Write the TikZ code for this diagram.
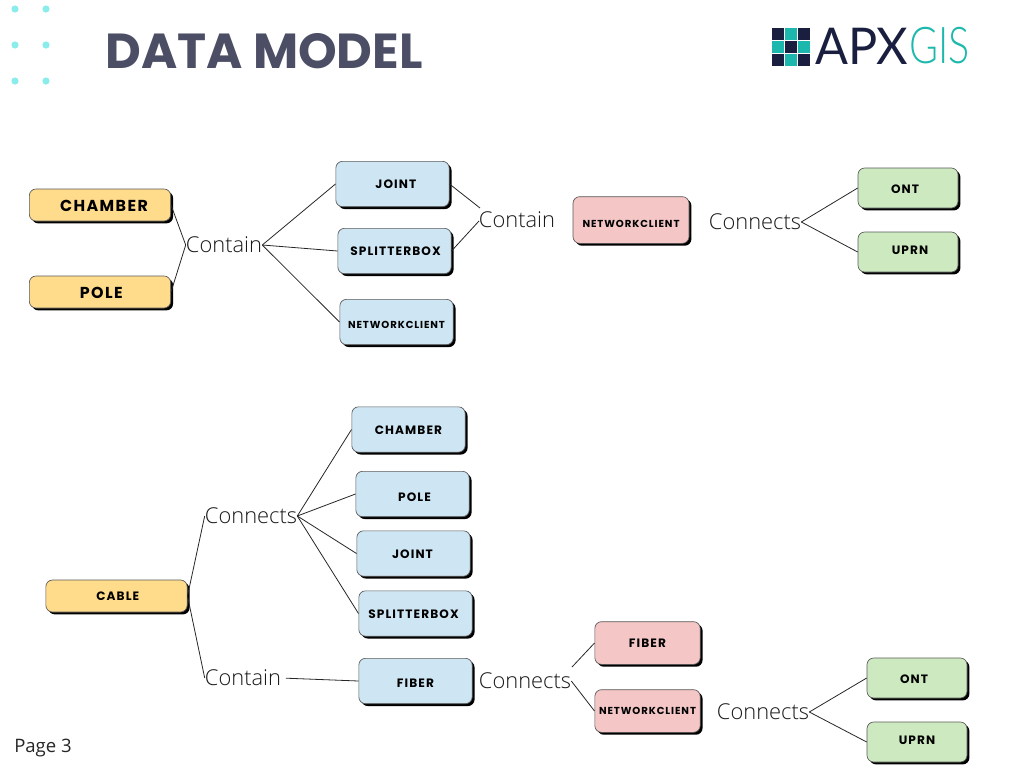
\documentclass[tikz,border=0pt]{standalone}
\usepackage{xcolor}
\usepackage{fontspec}
\usetikzlibrary{shadows}
\setmainfont{Open Sans}
\newfontfamily\verbfont{Open Sans Light}
\newfontfamily\titlefont{Poppins}
\newfontfamily\boxfont[LetterSpace=9]{Poppins}
\newfontfamily\logofont{Lato}
\newfontfamily\logolight{Lato Light}
\definecolor{titlegrey}{HTML}{4B4E65}
\definecolor{dotcyan}{HTML}{8AEDEC}
\definecolor{logonavy}{HTML}{1A1F40}
\definecolor{logoteal}{HTML}{1DB8AD}
\definecolor{boxyellow}{HTML}{FFDC8C}
\definecolor{boxblue}{HTML}{CEE5F3}
\definecolor{boxred}{HTML}{F4C6C6}
\definecolor{boxgreen}{HTML}{CDE9BF}
\tikzset{
    itembox/.style={draw=black!65, line width=0.5pt, rounded corners=5pt, inner sep=0pt,
        text height=6.9pt, text depth=0pt,
        font=\boxfont\bfseries\fontsize{9.1}{11}\selectfont,
        drop shadow={shadow xshift=1.8pt, shadow yshift=-1.8pt, fill=black, opacity=1}},
    yellowbox/.style={itembox, fill=boxyellow, minimum width=106pt, minimum height=24pt},
    bigtext/.style={font=\boxfont\bfseries\fontsize{11.9}{14}\selectfont, text height=9pt},
    clienttext/.style={font=\boxfont\bfseries\fontsize{7.6}{9}\selectfont},
    bluebox/.style={itembox, fill=boxblue, minimum width=85pt, minimum height=34pt},
    redbox/.style={itembox, fill=boxred},
    greenbox/.style={itembox, fill=boxgreen, minimum width=75pt, minimum height=30pt},
    verblabel/.style={inner sep=0pt, text=black!90, font=\verbfont\fontsize{16.4}{19}\selectfont},
    link/.style={draw=black!85, line width=0.6pt},
}

\begin{document}
\begin{tikzpicture}[x=0.75pt, y=-0.75pt]
    \useasboundingbox (0,0) rectangle (1024,768);

    % Dots in the corner
    \foreach \x in {15,46} {
        \foreach \y in {9,45,81} {
            \fill[dotcyan] (\x,\y) circle (3.6);
        }
    }

    % Title and page number
    \node[text=titlegrey, font=\titlefont\bfseries\fontsize{36.9}{44}\selectfont] (title) at (264,51) {DATA MODEL};
    \node[text=black!85, font=\fontsize{13.9}{16}\selectfont] (page) at (43,748) {Page 3};

    % Logo
    \foreach \x/\y/\col in {772/28/logonavy, 785/28/logoteal, 798/28/logonavy,
                            772/41/logoteal, 785/41/logonavy, 798/41/logoteal,
                            772/54/logonavy, 785/54/logoteal, 798/54/logonavy} {
        \fill[\col] (\x,\y) rectangle ++(12,12);
    }
    \node[anchor=west, inner sep=0pt, xscale=0.96, text=logonavy, font=\logofont\fontsize{38}{44}\selectfont] (apx) at (815,46) {APX};
    \node[anchor=west, inner sep=0pt, xscale=0.78, text=logoteal, font=\logolight\fontsize{38}{44}\selectfont] (gis) at (909,46) {GIS};

    % Yellow boxes
    \node[yellowbox, bigtext] (chamberA) at (100,205) {\hspace*{6pt}CHAMBER};
    \node[yellowbox, bigtext] (poleA) at (100,292) {\hspace*{2pt}POLE};
    \node[yellowbox] (cable) at (116.5,596) {\hspace*{2pt}CABLE};

    % Blue boxes
    \foreach \name/\x/\y/\txt in {jointA/392.5/184/\hspace*{5pt}JOINT, splitterA/394.5/251/\hspace*{1.5pt}SPLITTERBOX,
                                  chamberB/408.5/429.5/CHAMBER, jointB/413.5/553.5/JOINT\hspace*{1.5pt},
                                  splitterB/415.5/613.5/SPLITTERBOX\hspace*{3pt}} {
        \node[bluebox] (\name) at (\x,\y) {\txt};
    }
    \node[bluebox, clienttext, text height=9pt] (clientA) at (396.5,322) {NETWORKCLIENT};
    \node[bluebox, text height=11.4pt] (poleB) at (412.5,494) {\hspace*{3pt}POLE};
    \node[bluebox, text height=9.9pt] (fiberB) at (415.5,681) {FIBER};

    % Red boxes
    \node[redbox, clienttext, text height=11.4pt, minimum width=87pt, minimum height=35pt] (clientC) at (631,220) {NETWORKCLIENT};
    \node[redbox, minimum width=79pt, minimum height=32pt] (fiberD) at (647.5,643) {FIBER};
    \node[redbox, clienttext, text height=5.4pt, minimum width=79pt, minimum height=32pt] (clientD) at (647.5,711) {NETWORKCLIENT};

    % Green boxes
    \foreach \name/\x/\y/\txt in {ontC/908/188/ONT\hspace*{4.5pt}, ontD/917/678/ONT\hspace*{4.5pt}} {
        \node[greenbox, text height=8.4pt] (\name) at (\x,\y) {\txt};
    }
    \foreach \name/\x/\y/\txt in {uprnC/908/252/\hspace*{3pt}UPRN, uprnD/917/742/UPRN} {
        \node[greenbox, text height=4pt] (\name) at (\x,\y) {\txt};
    }

    % Verbs between the boxes
    \node[verblabel] (containA) at (224,245) {Contain};
    \node[verblabel] (containC) at (517,220) {Contain};
    \node[verblabel] (connectsC) at (755,222) {Connects};
    \node[verblabel] (connectsB) at (251,516) {Connects};
    \node[verblabel] (containB) at (243,678) {Contain};
    \node[verblabel] (connectsD) at (525,681) {Connects};
    \node[verblabel] (connectsE) at (763,712) {Connects};

    % Free ends that sit beside the verbs
    \coordinate (containCtop) at (480,208);
    \coordinate (containCbot) at (479,221);
    \coordinate (connectsDtop) at (572,667);

    % Connectors
    \foreach \from/\to in {chamberA.east/containA.west, poleA.east/containA.west,
                           jointA.east/containCtop, splitterA.east/containCbot,
                           cable.east/connectsB.west, cable.east/containB.west,
                           connectsDtop/fiberD.west, connectsD.east/clientD.west} {
        \draw[link] (\from) -- (\to);
    }
    \foreach \from/\to in {containA.east/jointA.west, containA.east/splitterA.west, containA.east/clientA.west,
                           connectsC.east/ontC.west, connectsC.east/uprnC.west,
                           connectsB.east/chamberB.west, connectsB.east/poleB.west,
                           connectsB.east/jointB.west, connectsB.east/splitterB.west,
                           connectsE.east/ontD.west, connectsE.east/uprnD.west} {
        \draw[link] (\from) -- (\to);
    }
    \draw[link, shorten <=3.5pt] (containB.east) -- (fiberB.west);
\end{tikzpicture}
\end{document}
